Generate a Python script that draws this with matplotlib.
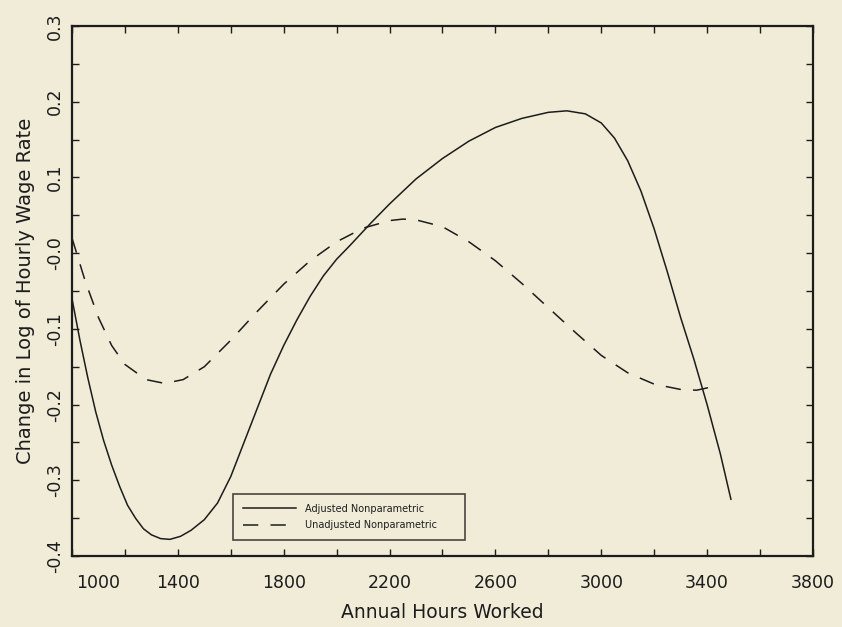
import numpy as np
import matplotlib
matplotlib.use('Agg')
import matplotlib.pyplot as plt
import matplotlib.transforms as mtransforms
from matplotlib.ticker import FixedLocator, FixedFormatter, MultipleLocator

# curves
hours_adj = [1000, 1030, 1060, 1090, 1120, 1150, 1180, 1210, 1240, 1270, 1300, 1335,
             1370, 1410, 1450, 1500, 1550, 1600, 1650, 1700, 1750, 1800, 1850, 1900,
             1950, 2000, 2050, 2130, 2200, 2300, 2400, 2500, 2600, 2700, 2800, 2870,
             2940, 3000, 3050, 3100, 3150, 3200, 3250, 3300, 3350, 3400, 3450, 3490]
adjusted = [-0.06, -0.115, -0.165, -0.21, -0.248, -0.28, -0.308, -0.333, -0.35, -0.364,
            -0.372, -0.377, -0.378, -0.374, -0.366, -0.352, -0.33, -0.295, -0.25, -0.205,
            -0.16, -0.122, -0.088, -0.057, -0.03, -0.008, 0.01, 0.04, 0.065, 0.098,
            0.125, 0.148, 0.166, 0.178, 0.186, 0.188, 0.184, 0.172, 0.152, 0.122,
            0.082, 0.032, -0.025, -0.085, -0.14, -0.2, -0.265, -0.325]

hours_unadj = [1000, 1050, 1100, 1150, 1200, 1280, 1350, 1420, 1500, 1600, 1700, 1800,
               1900, 2000, 2100, 2200, 2250, 2300, 2400, 2500, 2600, 2700, 2800, 2900,
               3000, 3100, 3200, 3300, 3360, 3400, 3440]
unadjusted = [0.02, -0.037, -0.085, -0.122, -0.147, -0.167, -0.172, -0.167, -0.15, -0.115,
              -0.077, -0.041, -0.01, 0.015, 0.033, 0.043, 0.045, 0.044, 0.035, 0.015,
              -0.01, -0.04, -0.072, -0.104, -0.135, -0.158, -0.173, -0.18, -0.181, -0.178,
              -0.172]

x_ticks = [1000, 1400, 1800, 2200, 2600, 3000, 3400, 3800]
y_ticks = [-0.4, -0.3, -0.2, -0.1, 0.0, 0.1, 0.2, 0.3]
y_labels = ['-0.4', '-0.3', '-0.2', '-0.1', '-0.0', '0.1', '0.2', '0.3']

bg = '#f0ecd8'
ink = '#1c1c1c'

fig = plt.figure(figsize=(8.42, 6.27), dpi=100, facecolor=bg)
ax = fig.add_axes([0.0855, 0.1132, 0.880, 0.8453], facecolor=bg)

ax.plot(hours_adj, adjusted, color=ink, lw=1.1, label='Adjusted Nonparametric')
ax.plot(hours_unadj, unadjusted, color=ink, lw=1.1, dashes=(10, 8),
        label='Unadjusted Nonparametric')

ax.set_xlim(1000, 3800)
ax.set_ylim(-0.4, 0.3)

ax.xaxis.set_major_locator(FixedLocator(x_ticks))
ax.xaxis.set_minor_locator(MultipleLocator(200))
ax.yaxis.set_major_locator(FixedLocator(y_ticks))
ax.yaxis.set_major_formatter(FixedFormatter(y_labels))
ax.yaxis.set_minor_locator(MultipleLocator(0.05))

ax.tick_params(which='both', direction='in', top=True, right=True,
               color=ink, width=1.0)
ax.tick_params(which='major', length=5, labelsize=12.5, labelcolor=ink)
ax.tick_params(which='minor', length=5)
ax.tick_params(axis='x', pad=13)
ax.tick_params(axis='y', pad=6)
for lab in ax.get_yticklabels():
    lab.set_rotation(90)
    lab.set_va('center')

# first x label sits right of the corner in the original
first = ax.get_xticklabels()[0]
first.set_transform(first.get_transform() +
                    mtransforms.ScaledTranslation(0.26, 0, fig.dpi_scale_trans))

for s in ax.spines.values():
    s.set_linewidth(1.6)
    s.set_color(ink)

ax.set_xlabel('Annual Hours Worked', fontsize=13.5, color=ink, labelpad=8)
ax.set_ylabel('Change in Log of Hourly Wage Rate', fontsize=14, color=ink, labelpad=8)

leg = ax.legend(loc='lower left', bbox_to_anchor=(0.217, 0.030, 0.314, 0.087),
                mode='expand', borderaxespad=0, fontsize=7, frameon=True,
                fancybox=False, handlelength=5.5, labelspacing=0.7, borderpad=1.0,
                handletextpad=0.9)
leg.get_frame().set_edgecolor(ink)
leg.get_frame().set_facecolor(bg)
leg.get_frame().set_linewidth(1.2)
for t in leg.get_texts():
    t.set_color(ink)

fig.savefig('out.png', dpi=100, facecolor=bg)
